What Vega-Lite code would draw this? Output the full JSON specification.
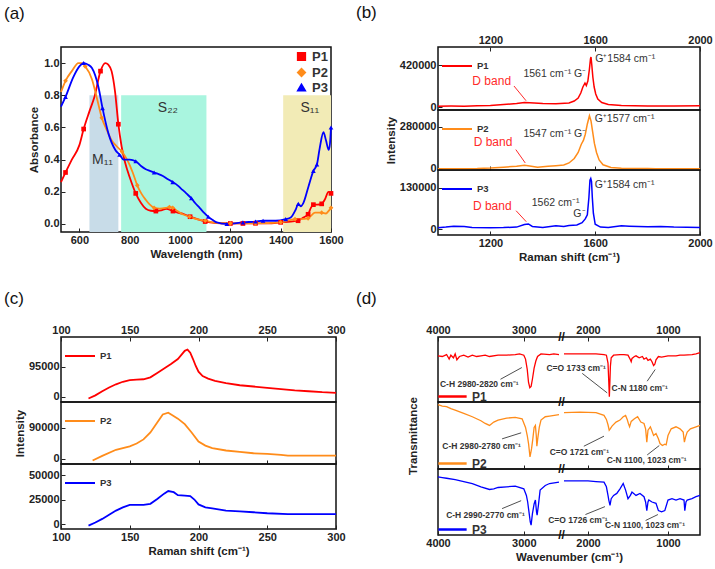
{
  "$schema": "https://vega.github.io/schema/vega-lite/v6.json",
  "padding": {"left": 3, "top": 3, "right": 0, "bottom": 2},
  "config": {
    "font": "Liberation Sans",
    "view": {"stroke": "#111", "strokeWidth": 1.5},
    "axis": {"labelFontWeight": "bold", "labelFontSize": 11, "labelColor": "#222", "titleFontSize": 11.5, "titleFontWeight": "bold", "titleColor": "#222", "domain": false, "grid": false, "tickColor": "#222", "tickSize": -4, "labelPadding": 6, "labelFont": "Liberation Sans", "titleFont": "Liberation Sans", "labelFlush": false, "labelOverlap": false},
    "title": {"fontSize": 17, "fontWeight": "normal", "anchor": "start", "frame": "group", "color": "#111", "font": "Liberation Sans"},
    "legend": {"labelFont": "Liberation Sans"}
  },
  "datasets": {
    "a": [
      {"s":"P1","x":527,"y":0.26},{"s":"P1","x":545,"y":0.32},{"s":"P1","x":570,"y":0.40},{"s":"P1","x":600,"y":0.49},{"s":"P1","x":617,"y":0.59},{"s":"P1","x":640,"y":0.70},{"s":"P1","x":660,"y":0.79},{"s":"P1","x":684,"y":0.95},{"s":"P1","x":703,"y":1.0},{"s":"P1","x":715,"y":0.99},{"s":"P1","x":728,"y":0.95},{"s":"P1","x":742,"y":0.82},{"s":"P1","x":755,"y":0.62},{"s":"P1","x":768,"y":0.48},{"s":"P1","x":782,"y":0.38},{"s":"P1","x":800,"y":0.29},{"s":"P1","x":824,"y":0.19},{"s":"P1","x":845,"y":0.13},{"s":"P1","x":864,"y":0.094},{"s":"P1","x":884,"y":0.082},{"s":"P1","x":904,"y":0.08},{"s":"P1","x":925,"y":0.085},{"s":"P1","x":945,"y":0.094},{"s":"P1","x":972,"y":0.08},{"s":"P1","x":990,"y":0.07},{"s":"P1","x":1012,"y":0.063},{"s":"P1","x":1040,"y":0.045},{"s":"P1","x":1066,"y":0.031},{"s":"P1","x":1100,"y":0.015},{"s":"P1","x":1145,"y":0.006},{"s":"P1","x":1200,"y":0.003},{"s":"P1","x":1250,"y":0.003},{"s":"P1","x":1300,"y":0.004},{"s":"P1","x":1350,"y":0.004},{"s":"P1","x":1400,"y":0.01},{"s":"P1","x":1440,"y":0.015},{"s":"P1","x":1469,"y":0.02},{"s":"P1","x":1490,"y":0.04},{"s":"P1","x":1509,"y":0.06},{"s":"P1","x":1520,"y":0.1},{"s":"P1","x":1530,"y":0.12},{"s":"P1","x":1545,"y":0.12},{"s":"P1","x":1563,"y":0.125},{"s":"P1","x":1575,"y":0.15},{"s":"P1","x":1590,"y":0.2},{"s":"P1","x":1600,"y":0.19},
      {"s":"P2","x":527,"y":0.82},{"s":"P2","x":545,"y":0.89},{"s":"P2","x":570,"y":0.95},{"s":"P2","x":596,"y":1.0},{"s":"P2","x":610,"y":1.0},{"s":"P2","x":623,"y":0.98},{"s":"P2","x":650,"y":0.90},{"s":"P2","x":670,"y":0.78},{"s":"P2","x":689,"y":0.66},{"s":"P2","x":710,"y":0.58},{"s":"P2","x":728,"y":0.52},{"s":"P2","x":750,"y":0.48},{"s":"P2","x":769,"y":0.45},{"s":"P2","x":782,"y":0.42},{"s":"P2","x":796,"y":0.38},{"s":"P2","x":812,"y":0.32},{"s":"P2","x":830,"y":0.24},{"s":"P2","x":846,"y":0.19},{"s":"P2","x":864,"y":0.15},{"s":"P2","x":880,"y":0.12},{"s":"P2","x":897,"y":0.10},{"s":"P2","x":920,"y":0.095},{"s":"P2","x":944,"y":0.10},{"s":"P2","x":958,"y":0.105},{"s":"P2","x":971,"y":0.10},{"s":"P2","x":990,"y":0.08},{"s":"P2","x":1010,"y":0.06},{"s":"P2","x":1038,"y":0.045},{"s":"P2","x":1066,"y":0.03},{"s":"P2","x":1100,"y":0.02},{"s":"P2","x":1150,"y":0.006},{"s":"P2","x":1200,"y":0.004},{"s":"P2","x":1300,"y":0.004},{"s":"P2","x":1400,"y":0.01},{"s":"P2","x":1457,"y":0.03},{"s":"P2","x":1480,"y":0.03},{"s":"P2","x":1509,"y":0.035},{"s":"P2","x":1536,"y":0.07},{"s":"P2","x":1563,"y":0.07},{"s":"P2","x":1580,"y":0.065},{"s":"P2","x":1590,"y":0.08},{"s":"P2","x":1600,"y":0.1},
      {"s":"P3","x":527,"y":0.73},{"s":"P3","x":545,"y":0.79},{"s":"P3","x":575,"y":0.91},{"s":"P3","x":600,"y":0.98},{"s":"P3","x":617,"y":1.0},{"s":"P3","x":635,"y":0.99},{"s":"P3","x":650,"y":0.97},{"s":"P3","x":676,"y":0.85},{"s":"P3","x":692,"y":0.72},{"s":"P3","x":716,"y":0.56},{"s":"P3","x":743,"y":0.46},{"s":"P3","x":760,"y":0.43},{"s":"P3","x":776,"y":0.40},{"s":"P3","x":800,"y":0.40},{"s":"P3","x":824,"y":0.39},{"s":"P3","x":845,"y":0.36},{"s":"P3","x":864,"y":0.34},{"s":"P3","x":880,"y":0.33},{"s":"P3","x":897,"y":0.32},{"s":"P3","x":915,"y":0.31},{"s":"P3","x":930,"y":0.30},{"s":"P3","x":950,"y":0.28},{"s":"P3","x":971,"y":0.26},{"s":"P3","x":990,"y":0.24},{"s":"P3","x":1004,"y":0.22},{"s":"P3","x":1025,"y":0.19},{"s":"P3","x":1045,"y":0.16},{"s":"P3","x":1060,"y":0.13},{"s":"P3","x":1078,"y":0.10},{"s":"P3","x":1095,"y":0.07},{"s":"P3","x":1112,"y":0.045},{"s":"P3","x":1130,"y":0.025},{"s":"P3","x":1146,"y":0.01},{"s":"P3","x":1186,"y":0.0},{"s":"P3","x":1250,"y":0.01},{"s":"P3","x":1300,"y":0.015},{"s":"P3","x":1330,"y":0.02},{"s":"P3","x":1380,"y":0.02},{"s":"P3","x":1420,"y":0.03},{"s":"P3","x":1440,"y":0.04},{"s":"P3","x":1460,"y":0.09},{"s":"P3","x":1470,"y":0.125},{"s":"P3","x":1480,"y":0.11},{"s":"P3","x":1490,"y":0.13},{"s":"P3","x":1510,"y":0.23},{"s":"P3","x":1530,"y":0.33},{"s":"P3","x":1544,"y":0.37},{"s":"P3","x":1555,"y":0.47},{"s":"P3","x":1570,"y":0.57},{"s":"P3","x":1580,"y":0.52},{"s":"P3","x":1591,"y":0.46},{"s":"P3","x":1596,"y":0.50},{"s":"P3","x":1600,"y":0.6}
    ],
    "b": [
      {"s":"P1","x":1000,"y":8000},{"s":"P1","x":1050,"y":9000},{"s":"P1","x":1100,"y":8000},{"s":"P1","x":1150,"y":12000},{"s":"P1","x":1200,"y":15000},{"s":"P1","x":1250,"y":25000},{"s":"P1","x":1300,"y":35000},{"s":"P1","x":1330,"y":45000},{"s":"P1","x":1350,"y":42000},{"s":"P1","x":1400,"y":35000},{"s":"P1","x":1450,"y":32000},{"s":"P1","x":1500,"y":40000},{"s":"P1","x":1520,"y":60000},{"s":"P1","x":1535,"y":90000},{"s":"P1","x":1545,"y":140000},{"s":"P1","x":1553,"y":200000},{"s":"P1","x":1561,"y":240000},{"s":"P1","x":1566,"y":215000},{"s":"P1","x":1572,"y":260000},{"s":"P1","x":1578,"y":380000},{"s":"P1","x":1582,"y":480000},{"s":"P1","x":1584,"y":500000},{"s":"P1","x":1587,"y":420000},{"s":"P1","x":1591,"y":300000},{"s":"P1","x":1596,"y":200000},{"s":"P1","x":1602,"y":130000},{"s":"P1","x":1610,"y":80000},{"s":"P1","x":1625,"y":45000},{"s":"P1","x":1650,"y":25000},{"s":"P1","x":1700,"y":15000},{"s":"P1","x":1750,"y":12000},{"s":"P1","x":1800,"y":10000},{"s":"P1","x":1900,"y":10000},{"s":"P1","x":2000,"y":12000},
      {"s":"P2","x":1000,"y":2000},{"s":"P2","x":1100,"y":2000},{"s":"P2","x":1150,"y":3000},{"s":"P2","x":1200,"y":6000},{"s":"P2","x":1250,"y":12000},{"s":"P2","x":1300,"y":18000},{"s":"P2","x":1330,"y":25000},{"s":"P2","x":1350,"y":20000},{"s":"P2","x":1380,"y":12000},{"s":"P2","x":1420,"y":18000},{"s":"P2","x":1450,"y":22000},{"s":"P2","x":1480,"y":26000},{"s":"P2","x":1500,"y":40000},{"s":"P2","x":1520,"y":70000},{"s":"P2","x":1535,"y":110000},{"s":"P2","x":1547,"y":165000},{"s":"P2","x":1555,"y":190000},{"s":"P2","x":1562,"y":230000},{"s":"P2","x":1570,"y":300000},{"s":"P2","x":1578,"y":355000},{"s":"P2","x":1584,"y":320000},{"s":"P2","x":1590,"y":250000},{"s":"P2","x":1597,"y":170000},{"s":"P2","x":1605,"y":110000},{"s":"P2","x":1615,"y":60000},{"s":"P2","x":1630,"y":28000},{"s":"P2","x":1660,"y":10000},{"s":"P2","x":1700,"y":5000},{"s":"P2","x":1800,"y":3000},{"s":"P2","x":1830,"y":1500},{"s":"P2","x":2000,"y":1500},
      {"s":"P3","x":1000,"y":4000},{"s":"P3","x":1030,"y":6000},{"s":"P3","x":1060,"y":9000},{"s":"P3","x":1100,"y":8000},{"s":"P3","x":1130,"y":5000},{"s":"P3","x":1200,"y":4000},{"s":"P3","x":1250,"y":4500},{"s":"P3","x":1300,"y":6000},{"s":"P3","x":1330,"y":14000},{"s":"P3","x":1345,"y":16000},{"s":"P3","x":1360,"y":8000},{"s":"P3","x":1400,"y":5000},{"s":"P3","x":1450,"y":10000},{"s":"P3","x":1480,"y":8000},{"s":"P3","x":1500,"y":11000},{"s":"P3","x":1530,"y":13000},{"s":"P3","x":1550,"y":20000},{"s":"P3","x":1562,"y":32000},{"s":"P3","x":1570,"y":45000},{"s":"P3","x":1576,"y":100000},{"s":"P3","x":1580,"y":155000},{"s":"P3","x":1583,"y":160000},{"s":"P3","x":1586,"y":150000},{"s":"P3","x":1589,"y":100000},{"s":"P3","x":1593,"y":50000},{"s":"P3","x":1600,"y":15000},{"s":"P3","x":1620,"y":6000},{"s":"P3","x":1650,"y":5000},{"s":"P3","x":1700,"y":10000},{"s":"P3","x":1730,"y":9000},{"s":"P3","x":1800,"y":7000},{"s":"P3","x":1850,"y":8000},{"s":"P3","x":1900,"y":6000},{"s":"P3","x":2000,"y":5000}
    ],
    "c": [
      {"s":"P1","x":120,"y":-5000},{"s":"P1","x":125,"y":5000},{"s":"P1","x":130,"y":18000},{"s":"P1","x":135,"y":30000},{"s":"P1","x":140,"y":40000},{"s":"P1","x":145,"y":48000},{"s":"P1","x":150,"y":53000},{"s":"P1","x":155,"y":55000},{"s":"P1","x":160,"y":56000},{"s":"P1","x":165,"y":62000},{"s":"P1","x":170,"y":76000},{"s":"P1","x":175,"y":90000},{"s":"P1","x":180,"y":104000},{"s":"P1","x":185,"y":120000},{"s":"P1","x":190,"y":146000},{"s":"P1","x":192,"y":150000},{"s":"P1","x":194,"y":140000},{"s":"P1","x":196,"y":120000},{"s":"P1","x":198,"y":98000},{"s":"P1","x":200,"y":80000},{"s":"P1","x":203,"y":66000},{"s":"P1","x":207,"y":58000},{"s":"P1","x":212,"y":51000},{"s":"P1","x":220,"y":44000},{"s":"P1","x":230,"y":37000},{"s":"P1","x":240,"y":33000},{"s":"P1","x":250,"y":29000},{"s":"P1","x":260,"y":25000},{"s":"P1","x":270,"y":21000},{"s":"P1","x":280,"y":18000},{"s":"P1","x":290,"y":15000},{"s":"P1","x":300,"y":13000},
      {"s":"P2","x":123,"y":-5000},{"s":"P2","x":130,"y":8600},{"s":"P2","x":140,"y":26000},{"s":"P2","x":150,"y":36000},{"s":"P2","x":155,"y":44000},{"s":"P2","x":160,"y":56000},{"s":"P2","x":165,"y":76000},{"s":"P2","x":170,"y":105000},{"s":"P2","x":174,"y":128000},{"s":"P2","x":178,"y":133000},{"s":"P2","x":181,"y":126000},{"s":"P2","x":185,"y":116000},{"s":"P2","x":190,"y":100000},{"s":"P2","x":195,"y":76000},{"s":"P2","x":200,"y":50000},{"s":"P2","x":205,"y":38000},{"s":"P2","x":210,"y":31000},{"s":"P2","x":220,"y":24000},{"s":"P2","x":230,"y":20000},{"s":"P2","x":240,"y":16000},{"s":"P2","x":250,"y":14000},{"s":"P2","x":260,"y":11500},{"s":"P2","x":265,"y":9000},{"s":"P2","x":300,"y":9000},
      {"s":"P3","x":120,"y":-1700},{"s":"P3","x":125,"y":1500},{"s":"P3","x":130,"y":5200},{"s":"P3","x":135,"y":9500},{"s":"P3","x":140,"y":13700},{"s":"P3","x":145,"y":17000},{"s":"P3","x":150,"y":19600},{"s":"P3","x":160,"y":19600},{"s":"P3","x":165,"y":20600},{"s":"P3","x":170,"y":25500},{"s":"P3","x":175,"y":31000},{"s":"P3","x":178,"y":33700},{"s":"P3","x":182,"y":32500},{"s":"P3","x":185,"y":29500},{"s":"P3","x":190,"y":29000},{"s":"P3","x":194,"y":28500},{"s":"P3","x":197,"y":25000},{"s":"P3","x":200,"y":20000},{"s":"P3","x":205,"y":17000},{"s":"P3","x":210,"y":16000},{"s":"P3","x":220,"y":13700},{"s":"P3","x":230,"y":13000},{"s":"P3","x":240,"y":12000},{"s":"P3","x":250,"y":11000},{"s":"P3","x":265,"y":10000},{"s":"P3","x":300,"y":10000}
    ],
    "d": [
      {"s":"P1","g":"L","x":4000,"y":71},{"s":"P1","g":"L","x":3950,"y":70},{"s":"P1","g":"L","x":3900,"y":73},{"s":"P1","g":"L","x":3870,"y":66},{"s":"P1","g":"L","x":3850,"y":72},{"s":"P1","g":"L","x":3820,"y":68},{"s":"P1","g":"L","x":3800,"y":74},{"s":"P1","g":"L","x":3780,"y":65},{"s":"P1","g":"L","x":3750,"y":70},{"s":"P1","g":"L","x":3700,"y":72},{"s":"P1","g":"L","x":3650,"y":69},{"s":"P1","g":"L","x":3600,"y":72},{"s":"P1","g":"L","x":3550,"y":70},{"s":"P1","g":"L","x":3500,"y":71},{"s":"P1","g":"L","x":3450,"y":72},{"s":"P1","g":"L","x":3400,"y":70},{"s":"P1","g":"L","x":3300,"y":72},{"s":"P1","g":"L","x":3200,"y":72},{"s":"P1","g":"L","x":3100,"y":73},{"s":"P1","g":"L","x":3050,"y":74},{"s":"P1","g":"L","x":3000,"y":72},{"s":"P1","g":"L","x":2980,"y":66},{"s":"P1","g":"L","x":2960,"y":50},{"s":"P1","g":"L","x":2945,"y":30},{"s":"P1","g":"L","x":2930,"y":22},{"s":"P1","g":"L","x":2915,"y":24},{"s":"P1","g":"L","x":2900,"y":35},{"s":"P1","g":"L","x":2880,"y":52},{"s":"P1","g":"L","x":2860,"y":63},{"s":"P1","g":"L","x":2840,"y":70},{"s":"P1","g":"L","x":2800,"y":74},{"s":"P1","g":"L","x":2700,"y":73},{"s":"P1","g":"L","x":2650,"y":74},{"s":"P1","g":"L","x":2590,"y":73},
      {"s":"P1","g":"R","x":2300,"y":74},{"s":"P1","g":"R","x":2200,"y":74},{"s":"P1","g":"R","x":2100,"y":74},{"s":"P1","g":"R","x":2000,"y":74},{"s":"P1","g":"R","x":1900,"y":74},{"s":"P1","g":"R","x":1800,"y":73},{"s":"P1","g":"R","x":1770,"y":72},{"s":"P1","g":"R","x":1750,"y":60},{"s":"P1","g":"R","x":1740,"y":30},{"s":"P1","g":"R","x":1733,"y":8},{"s":"P1","g":"R","x":1728,"y":25},{"s":"P1","g":"R","x":1720,"y":55},{"s":"P1","g":"R","x":1710,"y":68},{"s":"P1","g":"R","x":1680,"y":72},{"s":"P1","g":"R","x":1600,"y":73},{"s":"P1","g":"R","x":1550,"y":73},{"s":"P1","g":"R","x":1500,"y":72},{"s":"P1","g":"R","x":1470,"y":65},{"s":"P1","g":"R","x":1460,"y":62},{"s":"P1","g":"R","x":1450,"y":67},{"s":"P1","g":"R","x":1420,"y":70},{"s":"P1","g":"R","x":1400,"y":71},{"s":"P1","g":"R","x":1360,"y":68},{"s":"P1","g":"R","x":1320,"y":70},{"s":"P1","g":"R","x":1300,"y":66},{"s":"P1","g":"R","x":1270,"y":68},{"s":"P1","g":"R","x":1250,"y":64},{"s":"P1","g":"R","x":1220,"y":66},{"s":"P1","g":"R","x":1200,"y":62},{"s":"P1","g":"R","x":1180,"y":56},{"s":"P1","g":"R","x":1165,"y":58},{"s":"P1","g":"R","x":1150,"y":65},{"s":"P1","g":"R","x":1120,"y":70},{"s":"P1","g":"R","x":1080,"y":69},{"s":"P1","g":"R","x":1000,"y":71},{"s":"P1","g":"R","x":900,"y":71},{"s":"P1","g":"R","x":850,"y":72},{"s":"P1","g":"R","x":800,"y":72},{"s":"P1","g":"R","x":700,"y":73},{"s":"P1","g":"R","x":650,"y":74},{"s":"P1","g":"R","x":600,"y":76},
      {"s":"P2","g":"L","x":4000,"y":96},{"s":"P2","g":"L","x":3950,"y":94},{"s":"P2","g":"L","x":3900,"y":93},{"s":"P2","g":"L","x":3850,"y":90},{"s":"P2","g":"L","x":3800,"y":88},{"s":"P2","g":"L","x":3700,"y":83},{"s":"P2","g":"L","x":3600,"y":78},{"s":"P2","g":"L","x":3500,"y":72},{"s":"P2","g":"L","x":3450,"y":68},{"s":"P2","g":"L","x":3400,"y":65},{"s":"P2","g":"L","x":3350,"y":70},{"s":"P2","g":"L","x":3300,"y":73},{"s":"P2","g":"L","x":3200,"y":76},{"s":"P2","g":"L","x":3100,"y":77},{"s":"P2","g":"L","x":3020,"y":75},{"s":"P2","g":"L","x":2980,"y":62},{"s":"P2","g":"L","x":2960,"y":50},{"s":"P2","g":"L","x":2945,"y":38},{"s":"P2","g":"L","x":2928,"y":18},{"s":"P2","g":"L","x":2910,"y":30},{"s":"P2","g":"L","x":2895,"y":45},{"s":"P2","g":"L","x":2880,"y":62},{"s":"P2","g":"L","x":2865,"y":65},{"s":"P2","g":"L","x":2855,"y":50},{"s":"P2","g":"L","x":2848,"y":34},{"s":"P2","g":"L","x":2838,"y":45},{"s":"P2","g":"L","x":2820,"y":62},{"s":"P2","g":"L","x":2800,"y":73},{"s":"P2","g":"L","x":2750,"y":78},{"s":"P2","g":"L","x":2700,"y":79},{"s":"P2","g":"L","x":2590,"y":81},
      {"s":"P2","g":"R","x":2300,"y":84},{"s":"P2","g":"R","x":2100,"y":85},{"s":"P2","g":"R","x":1900,"y":84},{"s":"P2","g":"R","x":1800,"y":80},{"s":"P2","g":"R","x":1770,"y":74},{"s":"P2","g":"R","x":1750,"y":66},{"s":"P2","g":"R","x":1735,"y":58},{"s":"P2","g":"R","x":1722,"y":60},{"s":"P2","g":"R","x":1700,"y":64},{"s":"P2","g":"R","x":1650,"y":70},{"s":"P2","g":"R","x":1600,"y":73},{"s":"P2","g":"R","x":1560,"y":78},{"s":"P2","g":"R","x":1530,"y":80},{"s":"P2","g":"R","x":1510,"y":74},{"s":"P2","g":"R","x":1495,"y":68},{"s":"P2","g":"R","x":1480,"y":63},{"s":"P2","g":"R","x":1460,"y":71},{"s":"P2","g":"R","x":1420,"y":75},{"s":"P2","g":"R","x":1380,"y":78},{"s":"P2","g":"R","x":1340,"y":70},{"s":"P2","g":"R","x":1300,"y":68},{"s":"P2","g":"R","x":1280,"y":60},{"s":"P2","g":"R","x":1265,"y":40},{"s":"P2","g":"R","x":1250,"y":58},{"s":"P2","g":"R","x":1220,"y":63},{"s":"P2","g":"R","x":1180,"y":50},{"s":"P2","g":"R","x":1150,"y":53},{"s":"P2","g":"R","x":1120,"y":45},{"s":"P2","g":"R","x":1100,"y":38},{"s":"P2","g":"R","x":1070,"y":35},{"s":"P2","g":"R","x":1040,"y":37},{"s":"P2","g":"R","x":1023,"y":36},{"s":"P2","g":"R","x":1000,"y":50},{"s":"P2","g":"R","x":960,"y":60},{"s":"P2","g":"R","x":900,"y":63},{"s":"P2","g":"R","x":850,"y":60},{"s":"P2","g":"R","x":810,"y":55},{"s":"P2","g":"R","x":795,"y":40},{"s":"P2","g":"R","x":780,"y":48},{"s":"P2","g":"R","x":760,"y":55},{"s":"P2","g":"R","x":720,"y":60},{"s":"P2","g":"R","x":650,"y":63},{"s":"P2","g":"R","x":600,"y":65},
      {"s":"P3","g":"L","x":4000,"y":88},{"s":"P3","g":"L","x":3950,"y":87},{"s":"P3","g":"L","x":3900,"y":86},{"s":"P3","g":"L","x":3800,"y":84},{"s":"P3","g":"L","x":3700,"y":81},{"s":"P3","g":"L","x":3600,"y":78},{"s":"P3","g":"L","x":3500,"y":73},{"s":"P3","g":"L","x":3400,"y":69},{"s":"P3","g":"L","x":3350,"y":70},{"s":"P3","g":"L","x":3300,"y":72},{"s":"P3","g":"L","x":3200,"y":73},{"s":"P3","g":"L","x":3100,"y":74},{"s":"P3","g":"L","x":3000,"y":70},{"s":"P3","g":"L","x":2970,"y":60},{"s":"P3","g":"L","x":2955,"y":50},{"s":"P3","g":"L","x":2940,"y":35},{"s":"P3","g":"L","x":2925,"y":20},{"s":"P3","g":"L","x":2915,"y":15},{"s":"P3","g":"L","x":2900,"y":32},{"s":"P3","g":"L","x":2880,"y":47},{"s":"P3","g":"L","x":2865,"y":53},{"s":"P3","g":"L","x":2852,"y":35},{"s":"P3","g":"L","x":2845,"y":30},{"s":"P3","g":"L","x":2830,"y":45},{"s":"P3","g":"L","x":2810,"y":68},{"s":"P3","g":"L","x":2750,"y":75},{"s":"P3","g":"L","x":2700,"y":78},{"s":"P3","g":"L","x":2590,"y":80},
      {"s":"P3","g":"R","x":2300,"y":82},{"s":"P3","g":"R","x":2100,"y":82},{"s":"P3","g":"R","x":2000,"y":82},{"s":"P3","g":"R","x":1900,"y":81},{"s":"P3","g":"R","x":1800,"y":80},{"s":"P3","g":"R","x":1770,"y":73},{"s":"P3","g":"R","x":1750,"y":60},{"s":"P3","g":"R","x":1740,"y":53},{"s":"P3","g":"R","x":1725,"y":45},{"s":"P3","g":"R","x":1710,"y":55},{"s":"P3","g":"R","x":1680,"y":60},{"s":"P3","g":"R","x":1640,"y":63},{"s":"P3","g":"R","x":1600,"y":70},{"s":"P3","g":"R","x":1560,"y":78},{"s":"P3","g":"R","x":1530,"y":68},{"s":"P3","g":"R","x":1500,"y":55},{"s":"P3","g":"R","x":1470,"y":60},{"s":"P3","g":"R","x":1450,"y":65},{"s":"P3","g":"R","x":1400,"y":60},{"s":"P3","g":"R","x":1350,"y":63},{"s":"P3","g":"R","x":1300,"y":58},{"s":"P3","g":"R","x":1280,"y":50},{"s":"P3","g":"R","x":1265,"y":37},{"s":"P3","g":"R","x":1250,"y":50},{"s":"P3","g":"R","x":1240,"y":53},{"s":"P3","g":"R","x":1200,"y":50},{"s":"P3","g":"R","x":1150,"y":48},{"s":"P3","g":"R","x":1120,"y":37},{"s":"P3","g":"R","x":1080,"y":35},{"s":"P3","g":"R","x":1040,"y":37},{"s":"P3","g":"R","x":1000,"y":53},{"s":"P3","g":"R","x":950,"y":55},{"s":"P3","g":"R","x":900,"y":53},{"s":"P3","g":"R","x":850,"y":55},{"s":"P3","g":"R","x":800,"y":53},{"s":"P3","g":"R","x":790,"y":37},{"s":"P3","g":"R","x":775,"y":50},{"s":"P3","g":"R","x":760,"y":53},{"s":"P3","g":"R","x":700,"y":55},{"s":"P3","g":"R","x":650,"y":58},{"s":"P3","g":"R","x":600,"y":60}
    ]
  },
  "columns": 2,
  "align": "each",
  "bounds": "full",
  "spacing": {"row": 25, "column": 9},
  "resolve": {"scale": {"color": "independent", "shape": "independent", "fill": "independent"}, "legend": {"color": "independent", "shape": "independent"}},
  "concat": [
    {
      "width": 270, "height": 185,
      "title": {"text": "(a)", "dx": -57, "offset": 24},
      "resolve": {"axis": {"x": "independent", "y": "independent"}},
      "layer": [
        {
          "data": {"values": [{"band": "M11", "x1": 640, "x2": 755, "top": 0.8, "bottom": -0.05}, {"band": "S22", "x1": 766, "x2": 1105, "top": 0.8, "bottom": -0.05}, {"band": "S11", "x1": 1410, "x2": 1600, "top": 0.8, "bottom": -0.05}]},
          "mark": {"type": "rect"},
          "encoding": {
            "x": {"field": "x1", "type": "quantitative", "scale": {"domain": [527, 1600], "nice": false, "zero": false}, "axis": {"values": [600, 800, 1000, 1200, 1400, 1600], "format": "d", "title": "Wavelength (nm)", "titlePadding": 3}},
            "x2": {"field": "x2"},
            "y": {"field": "top", "type": "quantitative", "scale": {"domain": [-0.05, 1.1], "nice": false, "zero": false}, "axis": {"values": [0, 0.2, 0.4, 0.6, 0.8, 1], "format": ".1f", "title": "Absorbance", "titlePadding": 4, "labelOverlap": false}},
            "y2": {"field": "bottom"},
            "fill": {"field": "band", "type": "nominal", "scale": {"domain": ["M11", "S22", "S11"], "range": ["#c8dce8", "#a9f5df", "#f2ebb6"]}, "legend": null}
          }
        },
        {
          "data": {"values": [{"t": "M₁₁", "x": 692, "y": 0.4}, {"t": "S₂₂", "x": 952, "y": 0.72}, {"t": "S₁₁", "x": 1516, "y": 0.72}]},
          "mark": {"type": "text", "fontSize": 14, "color": "#333"},
          "encoding": {"x": {"field": "x", "type": "quantitative", "axis": null}, "y": {"field": "y", "type": "quantitative", "axis": null}, "text": {"field": "t"}}
        },
        {
          "data": {"name": "a"},
          "mark": {"type": "line", "strokeWidth": 1.8, "interpolate": "monotone"},
          "encoding": {
            "x": {"field": "x", "type": "quantitative", "axis": null},
            "y": {"field": "y", "type": "quantitative", "axis": null},
            "color": {"field": "s", "type": "nominal", "scale": {"domain": ["P1", "P2", "P3"], "range": ["#ff0000", "#ff8c1a", "#0000ff"]}, "legend": {"orient": "top-right", "title": null, "offset": 3, "labelFontSize": 13, "labelFontWeight": "bold", "labelColor": "#333", "symbolSize": 60, "rowPadding": 1, "padding": 0}}
          }
        },
        {
          "data": {"name": "a"},
          "transform": [{"filter": {"field": "x", "oneOf": [545, 617, 623, 684, 689, 692, 755, 760, 769, 824, 830, 897, 904, 958, 971, 972, 1038, 1040, 1045, 1100, 1112, 1186, 1200, 1250, 1300, 1330, 1400, 1420, 1457, 1469, 1470, 1509, 1530, 1544, 1563, 1600]}}],
          "mark": {"type": "point", "filled": true, "size": 22, "opacity": 1},
          "encoding": {
            "x": {"field": "x", "type": "quantitative", "axis": null},
            "y": {"field": "y", "type": "quantitative", "axis": null},
            "color": {"field": "s", "type": "nominal", "scale": {"domain": ["P1", "P2", "P3"], "range": ["#ff0000", "#ff8c1a", "#0000ff"]}, "legend": {"orient": "top-right", "title": null, "offset": 3, "labelFontSize": 13, "labelFontWeight": "bold", "labelColor": "#333", "symbolSize": 60, "rowPadding": 1, "padding": 0}},
            "shape": {"field": "s", "type": "nominal", "scale": {"domain": ["P1", "P2", "P3"], "range": ["square", "diamond", "triangle-up"]}, "legend": {"orient": "top-right", "title": null, "offset": 3, "labelFontSize": 13, "labelFontWeight": "bold", "labelColor": "#333", "symbolSize": 60, "rowPadding": 1, "padding": 0}}
          }
        }
      ]
    },
    {
      "bounds": "flush",
      "spacing": 0,
      "resolve": {"scale": {"color": "independent"}, "legend": {"color": "independent"}},
      "vconcat": [
        {
          "width": 262, "height": 63,
          "title": {"text": "(b)", "dx": -82, "offset": 12},
          "layer": [
            {
              "data": {"name": "b"},
              "transform": [{"filter": "datum.s === 'P1'"}],
              "mark": {"type": "line", "strokeWidth": 1.5},
              "encoding": {
                "x": {"field": "x", "type": "quantitative", "scale": {"domain": [1000, 2000], "nice": false, "zero": false}, "axis": {"orient": "top", "values": [1200, 1600, 2000], "format": "d", "title": null}},
                "y": {"field": "y", "type": "quantitative", "scale": {"domain": [-30000, 600000], "nice": false, "zero": false}, "axis": {"values": [0, 210000, 420000], "format": "d", "title": null}},
                "color": {"field": "s", "type": "nominal", "scale": {"domain": ["P1"], "range": ["#ff0000"]}, "legend": {"orient": "top-left", "title": null, "symbolType": "stroke", "symbolSize": 900, "symbolStrokeWidth": 2, "labelFontSize": 9.5, "labelFontWeight": "bold", "labelColor": "#333", "offset": 3, "padding": 0}}
              }
            },
            {
              "data": {"values": [{"x": 1290, "y": 210000, "x2": 1336, "y2": 63000}]},
              "mark": {"type": "rule", "color": "#ff2a2a", "strokeWidth": 1},
              "encoding": {"x": {"field": "x", "type": "quantitative"}, "y": {"field": "y", "type": "quantitative"}, "x2": {"field": "x2"}, "y2": {"field": "y2"}}
            },
            {
              "data": {"values": [{"t": "D band", "x": 1205, "y": 260000}]},
              "mark": {"type": "text", "color": "#ff2a2a", "fontSize": 12},
              "encoding": {"x": {"field": "x", "type": "quantitative"}, "y": {"field": "y", "type": "quantitative"}, "text": {"field": "t"}}
            },
            {
              "data": {"values": [{"t": "1561 cm⁻¹ G⁻", "x": 1566, "y": 330000}]},
              "mark": {"type": "text", "color": "#333", "fontSize": 10.5, "align": "right"},
              "encoding": {"x": {"field": "x", "type": "quantitative"}, "y": {"field": "y", "type": "quantitative"}, "text": {"field": "t"}}
            },
            {
              "data": {"values": [{"t": "G⁺1584 cm⁻¹", "x": 1600, "y": 480000}]},
              "mark": {"type": "text", "color": "#333", "fontSize": 10.5, "align": "left"},
              "encoding": {"x": {"field": "x", "type": "quantitative"}, "y": {"field": "y", "type": "quantitative"}, "text": {"field": "t"}}
            }
          ]
        },
        {
          "width": 262, "height": 60,
          "layer": [
            {
              "data": {"name": "b"},
              "transform": [{"filter": "datum.s === 'P2'"}],
              "mark": {"type": "line", "strokeWidth": 1.5},
              "encoding": {
                "x": {"field": "x", "type": "quantitative", "scale": {"domain": [1000, 2000], "nice": false, "zero": false}, "axis": {"values": [1200, 1600], "labels": false, "title": null}},
                "y": {"field": "y", "type": "quantitative", "scale": {"domain": [-7000, 393000], "nice": false, "zero": false}, "axis": {"values": [0, 140000, 280000], "format": "d", "title": "Intensity", "titlePadding": 3}},
                "color": {"field": "s", "type": "nominal", "scale": {"domain": ["P2"], "range": ["#ff8c1a"]}, "legend": {"orient": "top-left", "title": null, "symbolType": "stroke", "symbolSize": 900, "symbolStrokeWidth": 2, "labelFontSize": 9.5, "labelFontWeight": "bold", "labelColor": "#333", "offset": 3, "padding": 0}}
              }
            },
            {
              "data": {"values": [{"x": 1297, "y": 129000, "x2": 1333, "y2": 40000}]},
              "mark": {"type": "rule", "color": "#ff2a2a", "strokeWidth": 1},
              "encoding": {"x": {"field": "x", "type": "quantitative"}, "y": {"field": "y", "type": "quantitative"}, "x2": {"field": "x2"}, "y2": {"field": "y2"}}
            },
            {
              "data": {"values": [{"t": "D band", "x": 1210, "y": 178000}]},
              "mark": {"type": "text", "color": "#ff2a2a", "fontSize": 12},
              "encoding": {"x": {"field": "x", "type": "quantitative"}, "y": {"field": "y", "type": "quantitative"}, "text": {"field": "t"}}
            },
            {
              "data": {"values": [{"t": "1547 cm⁻¹ G⁻", "x": 1566, "y": 233000}]},
              "mark": {"type": "text", "color": "#333", "fontSize": 10.5, "align": "right"},
              "encoding": {"x": {"field": "x", "type": "quantitative"}, "y": {"field": "y", "type": "quantitative"}, "text": {"field": "t"}}
            },
            {
              "data": {"values": [{"t": "G⁺1577 cm⁻¹", "x": 1598, "y": 333000}]},
              "mark": {"type": "text", "color": "#333", "fontSize": 10.5, "align": "left"},
              "encoding": {"x": {"field": "x", "type": "quantitative"}, "y": {"field": "y", "type": "quantitative"}, "text": {"field": "t"}}
            }
          ]
        },
        {
          "width": 262, "height": 65,
          "layer": [
            {
              "data": {"name": "b"},
              "transform": [{"filter": "datum.s === 'P3'"}],
              "mark": {"type": "line", "strokeWidth": 1.5},
              "encoding": {
                "x": {"field": "x", "type": "quantitative", "scale": {"domain": [1000, 2000], "nice": false, "zero": false}, "axis": {"values": [1200, 1600, 2000], "format": "d", "title": "Raman shift (cm⁻¹)", "titlePadding": 3}},
                "y": {"field": "y", "type": "quantitative", "scale": {"domain": [-19000, 187000], "nice": false, "zero": false}, "axis": {"values": [0, 65000, 130000], "format": "d", "title": null}},
                "color": {"field": "s", "type": "nominal", "scale": {"domain": ["P3"], "range": ["#0000ff"]}, "legend": {"orient": "top-left", "title": null, "symbolType": "stroke", "symbolSize": 900, "symbolStrokeWidth": 2, "labelFontSize": 9.5, "labelFontWeight": "bold", "labelColor": "#333", "offset": 3, "padding": 0}}
              }
            },
            {
              "data": {"values": [{"x": 1298, "y": 58000, "x2": 1337, "y2": 23000}]},
              "mark": {"type": "rule", "color": "#ff2a2a", "strokeWidth": 1},
              "encoding": {"x": {"field": "x", "type": "quantitative"}, "y": {"field": "y", "type": "quantitative"}, "x2": {"field": "x2"}, "y2": {"field": "y2"}}
            },
            {
              "data": {"values": [{"t": "D band", "x": 1207, "y": 72000}]},
              "mark": {"type": "text", "color": "#ff2a2a", "fontSize": 12},
              "encoding": {"x": {"field": "x", "type": "quantitative"}, "y": {"field": "y", "type": "quantitative"}, "text": {"field": "t"}}
            },
            {
              "data": {"values": [{"t": "1562 cm⁻¹", "x": 1540, "y": 81000}, {"t": "G⁻", "x": 1563, "y": 46000}]},
              "mark": {"type": "text", "color": "#333", "fontSize": 10.5, "align": "right"},
              "encoding": {"x": {"field": "x", "type": "quantitative"}, "y": {"field": "y", "type": "quantitative"}, "text": {"field": "t"}}
            },
            {
              "data": {"values": [{"t": "G⁺1584 cm⁻¹", "x": 1598, "y": 139000}]},
              "mark": {"type": "text", "color": "#333", "fontSize": 10.5, "align": "left"},
              "encoding": {"x": {"field": "x", "type": "quantitative"}, "y": {"field": "y", "type": "quantitative"}, "text": {"field": "t"}}
            }
          ]
        }
      ]
    },
    {
      "bounds": "flush",
      "spacing": 0,
      "resolve": {"scale": {"color": "independent"}, "legend": {"color": "independent"}},
      "vconcat": [
        {
          "width": 275, "height": 65,
          "title": {"text": "(c)", "dx": -57, "offset": 16},
          "data": {"name": "c"},
          "transform": [{"filter": "datum.s === 'P1'"}],
          "mark": {"type": "line", "strokeWidth": 1.8},
          "encoding": {
            "x": {"field": "x", "type": "quantitative", "scale": {"domain": [100, 300], "nice": false, "zero": false}, "axis": {"orient": "top", "values": [100, 150, 200, 250, 300], "format": "d", "title": null}},
            "y": {"field": "y", "type": "quantitative", "scale": {"domain": [-16000, 189700], "nice": false, "zero": false}, "axis": {"values": [0, 95000], "format": "d", "title": null}},
            "color": {"field": "s", "type": "nominal", "scale": {"domain": ["P1"], "range": ["#ff0000"]}, "legend": {"orient": "top-left", "title": null, "symbolType": "stroke", "symbolSize": 900, "symbolStrokeWidth": 2, "labelFontSize": 9.5, "labelFontWeight": "bold", "labelColor": "#333", "offset": 3, "padding": 0}}
          }
        },
        {
          "width": 275, "height": 62,
          "data": {"name": "c"},
          "transform": [{"filter": "datum.s === 'P2'"}],
          "mark": {"type": "line", "strokeWidth": 1.8},
          "encoding": {
            "x": {"field": "x", "type": "quantitative", "scale": {"domain": [100, 300], "nice": false, "zero": false}, "axis": {"values": [100, 150, 200, 250, 300], "labels": false, "title": null}},
            "y": {"field": "y", "type": "quantitative", "scale": {"domain": [-15000, 164000], "nice": false, "zero": false}, "axis": {"values": [0, 90000], "format": "d", "title": "Intensity", "titlePadding": 3}},
            "color": {"field": "s", "type": "nominal", "scale": {"domain": ["P2"], "range": ["#ff8c1a"]}, "legend": {"orient": "top-left", "title": null, "symbolType": "stroke", "symbolSize": 900, "symbolStrokeWidth": 2, "labelFontSize": 9.5, "labelFontWeight": "bold", "labelColor": "#333", "offset": 3, "padding": 0}}
          }
        },
        {
          "width": 275, "height": 65,
          "data": {"name": "c"},
          "transform": [{"filter": "datum.s === 'P3'"}],
          "mark": {"type": "line", "strokeWidth": 1.8},
          "encoding": {
            "x": {"field": "x", "type": "quantitative", "scale": {"domain": [100, 300], "nice": false, "zero": false}, "axis": {"values": [100, 150, 200, 250, 300], "format": "d", "title": "Raman shift (cm⁻¹)", "titlePadding": 3}},
            "y": {"field": "y", "type": "quantitative", "scale": {"domain": [-5100, 61300], "nice": false, "zero": false}, "axis": {"values": [0, 25000, 50000], "format": "d", "title": null}},
            "color": {"field": "s", "type": "nominal", "scale": {"domain": ["P3"], "range": ["#0000ff"]}, "legend": {"orient": "top-left", "title": null, "symbolType": "stroke", "symbolSize": 900, "symbolStrokeWidth": 2, "labelFontSize": 9.5, "labelFontWeight": "bold", "labelColor": "#333", "offset": 3, "padding": 0}}
          }
        }
      ]
    },
    {
      "bounds": "flush",
      "spacing": 0,
      "resolve": {"scale": {"color": "independent"}, "legend": {"color": "independent"}},
      "vconcat": [
        {
          "width": 262, "height": 65,
          "title": {"text": "(d)", "dx": -82, "offset": 16},
          "layer": [
            {
              "data": {"name": "d"},
              "transform": [{"filter": "datum.s === 'P1'"}],
              "mark": {"type": "line", "strokeWidth": 1.3},
              "encoding": {
                "x": {"field": "x", "type": "quantitative", "scale": {"domain": [4000, 2590, 2300, 600], "range": [0, 121, 126, 262], "nice": false, "zero": false}, "axis": {"orient": "top", "values": [4000, 3000, 2000, 1000], "format": "d", "title": null}},
                "y": {"field": "y", "type": "quantitative", "scale": {"domain": [0, 100], "nice": false, "zero": false}, "axis": null},
                "detail": {"field": "g"},
                "color": {"field": "s", "type": "nominal", "scale": {"domain": ["P1"], "range": ["#ff0000"]}, "legend": {"orient": "bottom-left", "title": null, "symbolType": "stroke", "symbolSize": 800, "symbolStrokeWidth": 2.5, "labelFontSize": 12, "labelFontWeight": "bold", "labelColor": "#333", "offset": -1, "padding": 0}}
              }
            },
            {
              "data": {"values": [{"x": 3272, "y": 35, "x2": 3023, "y2": 53}, {"x": 2072, "y": 44, "x2": 1760, "y2": 14}, {"x": 1260, "y": 32, "x2": 1160, "y2": 50}]},
              "mark": {"type": "rule", "color": "#222", "strokeWidth": 0.8},
              "encoding": {"x": {"field": "x", "type": "quantitative"}, "y": {"field": "y", "type": "quantitative"}, "x2": {"field": "x2"}, "y2": {"field": "y2"}}
            },
            {
              "data": {"values": [{"t": "C-H 2980-2820 cm⁻¹", "x": 3977, "y": 28}, {"t": "C=O 1733 cm⁻¹", "x": 2736, "y": 53}, {"t": "C-N 1180 cm⁻¹", "x": 1706, "y": 21}]},
              "mark": {"type": "text", "color": "#333", "fontSize": 8.5, "fontWeight": "bold", "align": "left"},
              "encoding": {"x": {"field": "x", "type": "quantitative"}, "y": {"field": "y", "type": "quantitative"}, "text": {"field": "t"}}
            },
            {
              "data": {"values": [{"x": 2445, "y": 100}]},
              "mark": {"type": "text", "text": "//", "fontSize": 12, "fontWeight": "bold", "color": "#111"},
              "encoding": {"x": {"field": "x", "type": "quantitative"}, "y": {"field": "y", "type": "quantitative"}}
            }
          ]
        },
        {
          "width": 262, "height": 67,
          "layer": [
            {
              "data": {"name": "d"},
              "transform": [{"filter": "datum.s === 'P2'"}],
              "mark": {"type": "line", "strokeWidth": 1.3},
              "encoding": {
                "x": {"field": "x", "type": "quantitative", "scale": {"domain": [4000, 2590, 2300, 600], "range": [0, 121, 126, 262], "nice": false, "zero": false}, "axis": {"values": [4000, 3000, 2000, 1000], "labels": false, "title": null}},
                "y": {"field": "y", "type": "quantitative", "scale": {"domain": [0, 100], "nice": false, "zero": false}, "axis": {"title": "Transmittance", "labels": false, "ticks": false, "titlePadding": 20}},
                "detail": {"field": "g"},
                "color": {"field": "s", "type": "nominal", "scale": {"domain": ["P2"], "range": ["#ff8c1a"]}, "legend": {"orient": "bottom-left", "title": null, "symbolType": "stroke", "symbolSize": 800, "symbolStrokeWidth": 2.5, "labelFontSize": 12, "labelFontWeight": "bold", "labelColor": "#333", "offset": -1, "padding": 0}}
              }
            },
            {
              "data": {"values": [{"x": 3253, "y": 45, "x2": 3031, "y2": 54}, {"x": 2052, "y": 34, "x2": 1800, "y2": 49}, {"x": 1260, "y": 21, "x2": 1109, "y2": 35}]},
              "mark": {"type": "rule", "color": "#222", "strokeWidth": 0.8},
              "encoding": {"x": {"field": "x", "type": "quantitative"}, "y": {"field": "y", "type": "quantitative"}, "x2": {"field": "x2"}, "y2": {"field": "y2"}}
            },
            {
              "data": {"values": [{"t": "C-H 2980-2780 cm⁻¹", "x": 3950, "y": 35}, {"t": "C=O 1721 cm⁻¹", "x": 2698, "y": 25}, {"t": "C-N 1100, 1023 cm⁻¹", "x": 1767, "y": 13}]},
              "mark": {"type": "text", "color": "#333", "fontSize": 8.5, "fontWeight": "bold", "align": "left"},
              "encoding": {"x": {"field": "x", "type": "quantitative"}, "y": {"field": "y", "type": "quantitative"}, "text": {"field": "t"}}
            },
            {
              "data": {"values": [{"x": 2445, "y": 100}]},
              "mark": {"type": "text", "text": "//", "fontSize": 12, "fontWeight": "bold", "color": "#111"},
              "encoding": {"x": {"field": "x", "type": "quantitative"}, "y": {"field": "y", "type": "quantitative"}}
            }
          ]
        },
        {
          "width": 262, "height": 66,
          "layer": [
            {
              "data": {"name": "d"},
              "transform": [{"filter": "datum.s === 'P3'"}],
              "mark": {"type": "line", "strokeWidth": 1.3},
              "encoding": {
                "x": {"field": "x", "type": "quantitative", "scale": {"domain": [4000, 2590, 2300, 600], "range": [0, 121, 126, 262], "nice": false, "zero": false}, "axis": {"values": [4000, 3000, 2000, 1000], "format": "d", "title": "Wavenumber (cm⁻¹)", "titlePadding": 3}},
                "y": {"field": "y", "type": "quantitative", "scale": {"domain": [0, 100], "nice": false, "zero": false}, "axis": null},
                "detail": {"field": "g"},
                "color": {"field": "s", "type": "nominal", "scale": {"domain": ["P3"], "range": ["#0000ff"]}, "legend": {"orient": "bottom-left", "title": null, "symbolType": "stroke", "symbolSize": 800, "symbolStrokeWidth": 2.5, "labelFontSize": 12, "labelFontWeight": "bold", "labelColor": "#333", "offset": -1, "padding": 0}}
              }
            },
            {
              "data": {"values": [{"x": 3253, "y": 40, "x2": 3031, "y2": 52}, {"x": 2032, "y": 31, "x2": 1788, "y2": 43}, {"x": 1280, "y": 22, "x2": 1126, "y2": 31}]},
              "mark": {"type": "rule", "color": "#222", "strokeWidth": 0.8},
              "encoding": {"x": {"field": "x", "type": "quantitative"}, "y": {"field": "y", "type": "quantitative"}, "x2": {"field": "x2"}, "y2": {"field": "y2"}}
            },
            {
              "data": {"values": [{"t": "C-H 2990-2770 cm⁻¹", "x": 3905, "y": 30}, {"t": "C=O 1726 cm⁻¹", "x": 2716, "y": 23}, {"t": "C-N 1100, 1023 cm⁻¹", "x": 1788, "y": 15}]},
              "mark": {"type": "text", "color": "#333", "fontSize": 8.5, "fontWeight": "bold", "align": "left"},
              "encoding": {"x": {"field": "x", "type": "quantitative"}, "y": {"field": "y", "type": "quantitative"}, "text": {"field": "t"}}
            },
            {
              "data": {"values": [{"x": 2445, "y": 100}, {"x": 2445, "y": 0}]},
              "mark": {"type": "text", "text": "//", "fontSize": 12, "fontWeight": "bold", "color": "#111"},
              "encoding": {"x": {"field": "x", "type": "quantitative"}, "y": {"field": "y", "type": "quantitative"}}
            }
          ]
        }
      ]
    }
  ]
}
